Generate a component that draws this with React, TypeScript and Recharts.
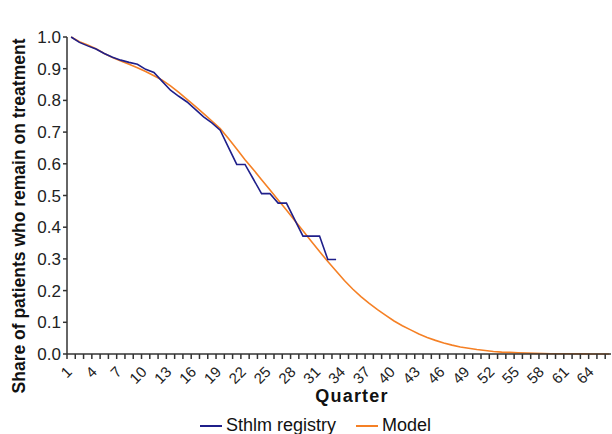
import { LineChart, Line, XAxis, YAxis } from "recharts";

const quarters = Array.from({ length: 66 }, (_, i) => i + 1);

const registry = [
  1.0, 0.983, 0.972, 0.962, 0.948, 0.936, 0.927, 0.92, 0.914, 0.898, 0.888,
  0.86, 0.832, 0.813, 0.795, 0.772, 0.748, 0.729, 0.706, 0.652, 0.598, 0.598,
  0.552, 0.506, 0.506, 0.476, 0.476, 0.424, 0.372, 0.372, 0.372, 0.298, 0.298,
];

const model = [
  1.0, 0.985, 0.975, 0.963, 0.948, 0.935, 0.924, 0.914, 0.903, 0.891, 0.878,
  0.864, 0.846, 0.825, 0.803, 0.781, 0.758, 0.735, 0.711, 0.68, 0.647, 0.613,
  0.582, 0.55, 0.518, 0.486, 0.454, 0.421, 0.389, 0.356, 0.323, 0.292, 0.262,
  0.232, 0.205, 0.181, 0.16, 0.14, 0.122, 0.104, 0.089, 0.076, 0.063, 0.052,
  0.043, 0.035, 0.028, 0.022, 0.018, 0.014, 0.011, 0.008, 0.006, 0.005, 0.004,
  0.003, 0.002, 0.0015, 0.001, 0.001, 0.0006, 0.0004, 0.0003, 0.0002, 0.0001, 0,
];

const yTicks = [0, 0.1, 0.2, 0.3, 0.4, 0.5, 0.6, 0.7, 0.8, 0.9, 1.0];

const data = quarters.map((q, i) => ({
  q,
  registry: i < registry.length ? registry[i] : undefined,
  model: model[i],
}));

// tick marks sit on category boundaries, labels on every 3rd category
const boundaries = quarters.map((q) => q - 0.5);
const X_MAX = 66.2;
const FONT = "'Liberation Sans', Arial, sans-serif";
const AXIS = "#333";
const BLUE = "#1f1f8a";
const ORANGE = "#f58025";

const PLOT_W = 612 - 67 - 1;
const BAND = PLOT_W / (X_MAX - 0.5);

function QuarterTick({ x, y, payload }: any) {
  const k = payload.value + 0.5;
  if ((k - 1) % 3 !== 0) return <g />;
  const cx = x + BAND / 2 - 2;
  const ty = y + 8;
  return (
    <text
      x={cx}
      y={ty}
      transform={`rotate(-45, ${cx}, ${ty})`}
      textAnchor="end"
      dominantBaseline="central"
      fontSize={15}
      fontFamily={FONT}
      fill="#222"
    >
      {k}
    </text>
  );
}

export default function App() {
  return (
    <div style={{ position: "absolute", left: 0, top: 0, width: 612, height: 434, background: "#fff" }}>
      <LineChart
        width={612}
        height={434}
        data={data}
        margin={{ top: 37, right: 1, bottom: 0, left: 0 }}
      >
        <XAxis
          dataKey="q"
          type="number"
          domain={[0.5, X_MAX]}
          ticks={boundaries}
          interval={0}
          allowDataOverflow
          height={80}
          tick={<QuarterTick />}
          tickSize={5}
          stroke={AXIS}
          strokeWidth={1.5}
          label={{
            content: () => (
              <text
                x={352}
                y={402}
                textAnchor="middle"
                fontSize={18}
                fontWeight={700}
                fontFamily={FONT}
                fill="#111"
                letterSpacing={1.2}
              >
                Quarter
              </text>
            ),
          }}
        />
        <YAxis
          domain={[0, 1]}
          ticks={yTicks}
          interval={0}
          width={67}
          tickSize={4}
          stroke={AXIS}
          strokeWidth={1.5}
          tickFormatter={(v: number) => v.toFixed(1)}
          tick={{ fontSize: 17, fontFamily: FONT, fill: "#222" }}
          label={{
            content: () => (
              <text
                x={19}
                y={216}
                transform="rotate(-90, 19, 216)"
                textAnchor="middle"
                dominantBaseline="central"
                fontSize={17.5}
                fontWeight={700}
                fontFamily={FONT}
                fill="#111"
              >
                Share of patients who remain on treatment
              </text>
            ),
          }}
        />
        <Line
          dataKey="model"
          stroke={ORANGE}
          strokeWidth={1.6}
          dot={false}
          type="linear"
          isAnimationActive={false}
        />
        <Line
          dataKey="registry"
          stroke={BLUE}
          strokeWidth={1.6}
          dot={false}
          type="linear"
          isAnimationActive={false}
        />
      </LineChart>
      <div
        style={{
          position: "absolute",
          left: 200,
          top: 415,
          display: "flex",
          alignItems: "center",
          fontFamily: FONT,
          fontSize: 18,
          color: "#111",
          whiteSpace: "nowrap",
        }}
      >
        <span style={{ display: "inline-block", width: 22, height: 2, background: BLUE, marginRight: 4 }} />
        <span style={{ marginRight: 20 }}>Sthlm registry</span>
        <span style={{ display: "inline-block", width: 22, height: 2, background: ORANGE, marginRight: 4 }} />
        <span>Model</span>
      </div>
    </div>
  );
}
